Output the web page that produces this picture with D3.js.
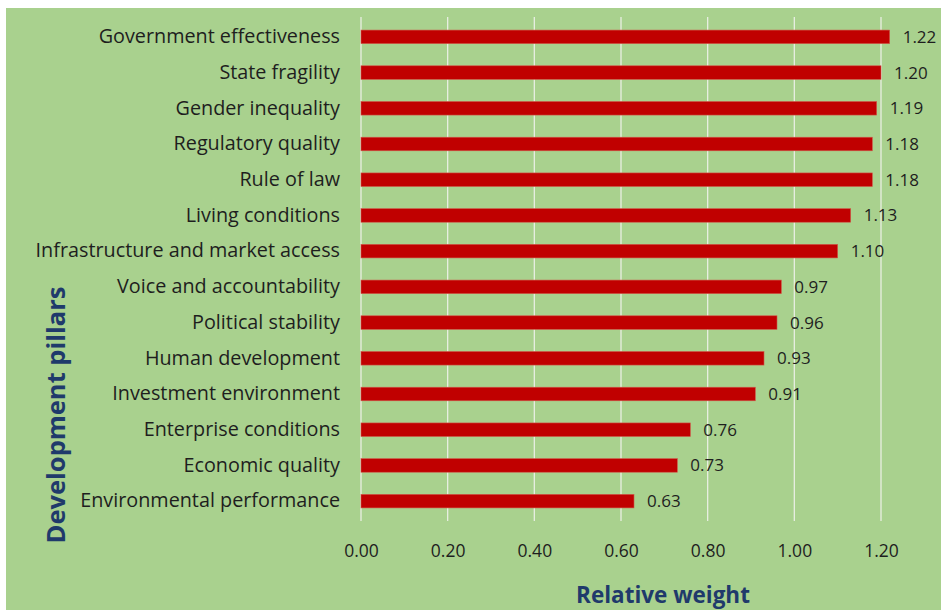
<!DOCTYPE html>
<html>
<head>
<meta charset="utf-8">
<script src="https://cdn.jsdelivr.net/npm/d3@7/dist/d3.min.js"></script>
<style>
  html, body { margin: 0; padding: 0; background: #ffffff; }
  svg { display: block; }
</style>
</head>
<body>
<svg id="chart" width="941" height="610"></svg>
<script>
// Development pillars and their relative weights
const pillars = [
  "Government effectiveness",
  "State fragility",
  "Gender inequality",
  "Regulatory quality",
  "Rule of law",
  "Living conditions",
  "Infrastructure and market access",
  "Voice and accountability",
  "Political stability",
  "Human development",
  "Investment environment",
  "Enterprise conditions",
  "Economic quality",
  "Environmental performance"
];
const weights = [1.22, 1.20, 1.19, 1.18, 1.18, 1.13, 1.10, 0.97, 0.96, 0.93, 0.91, 0.76, 0.73, 0.63];
const xTicks = [0, 0.2, 0.4, 0.6, 0.8, 1.0, 1.2];
const xTitle = "Relative weight";
const yTitle = "Development pillars";

const svg = d3.select("#chart");
const W = 941, H = 610;
const font = "'Open Sans', 'Noto Sans', sans-serif";

// panel background
svg.append("rect")
  .attr("x", 6).attr("y", 8)
  .attr("width", W - 6).attr("height", H - 8)
  .attr("fill", "#a9d18e");

const plot = { left: 361, top: 19, right: 881, bottom: 519 };

const x = d3.scaleLinear().domain([0, 1.2]).range([plot.left, plot.right]);
const y = d3.scaleBand().domain(pillars).range([plot.top, plot.bottom]).paddingInner(0.62).paddingOuter(0.31);

// vertical gridlines
svg.append("g")
  .selectAll("line")
  .data(xTicks)
  .join("line")
  .attr("x1", d => x(d)).attr("x2", d => x(d))
  .attr("y1", plot.top - 2).attr("y2", plot.bottom + 2)
  .attr("stroke", "#e8eee2").attr("stroke-width", 1.3);

// bars
svg.append("g")
  .selectAll("rect")
  .data(weights)
  .join("rect")
  .attr("x", x(0))
  .attr("y", (d, i) => y(pillars[i]))
  .attr("width", d => x(d) - x(0))
  .attr("height", y.bandwidth())
  .attr("fill", "#c00000")
  .attr("stroke", "#d0584a").attr("stroke-width", 0.6);

// value labels
svg.append("g")
  .selectAll("text")
  .data(weights)
  .join("text")
  .attr("x", d => x(d) + 13)
  .attr("y", (d, i) => y(pillars[i]) + y.bandwidth() / 2)
  .attr("dy", "0.35em")
  .attr("font-family", font).attr("font-size", 17)
  .attr("fill", "#1e1e1e")
  .text(d => d.toFixed(2));

// category axis labels
const yAxis = d3.axisLeft(y).tickSize(0).tickPadding(21);
const gy = svg.append("g").attr("transform", `translate(${plot.left},0)`).call(yAxis);
gy.select(".domain").remove();
gy.selectAll("text")
  .attr("font-family", font).attr("font-size", 19.8)
  .attr("fill", "#1e1e1e");

// value axis tick labels
const xAxis = d3.axisBottom(x).tickValues(xTicks).tickSize(0).tickPadding(0).tickFormat(d3.format(".2f"));
const gx = svg.append("g").attr("transform", `translate(0,${plot.bottom + 26})`).call(xAxis);
gx.select(".domain").remove();
gx.selectAll("text")
  .attr("font-family", font).attr("font-size", 17.5)
  .attr("fill", "#1e1e1e");

// axis titles
svg.append("text")
  .attr("x", 663).attr("y", 603)
  .attr("text-anchor", "middle")
  .attr("font-family", font).attr("font-size", 22.5).attr("font-weight", 700)
  .attr("fill", "#1f3a6b")
  .text(xTitle);

svg.append("text")
  .attr("transform", "translate(65,415) rotate(-90)")
  .attr("text-anchor", "middle")
  .attr("font-family", font).attr("font-size", 25.5).attr("font-weight", 700)
  .attr("fill", "#1f3a6b")
  .text(yTitle);
</script>
</body>
</html>
